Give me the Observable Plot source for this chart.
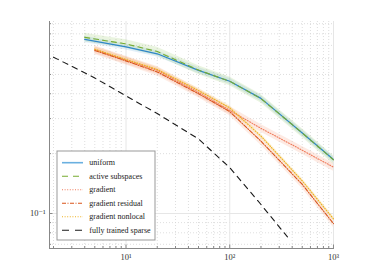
<!DOCTYPE html>
<html>
<head>
<meta charset="utf-8">
<script src="https://cdn.jsdelivr.net/npm/d3@7"></script>
<script src="https://cdn.jsdelivr.net/npm/@observablehq/plot@0.6"></script>
<style>
  html, body { margin: 0; padding: 0; background: white; }
  #chart { width: 374px; height: 280px; }
</style>
</head>
<body>
<div id="chart"></div>
<script>
// ---- data ----
const xs = [4, 10, 20, 50, 100, 200, 500, 1000];
const uniform = [0.751, 0.688, 0.635, 0.524, 0.462, 0.379, 0.254, 0.187];
const activeSubspaces = [0.768, 0.712, 0.652, 0.526, 0.462, 0.378, 0.254, 0.186];

const xsGrad = [5, 10, 20, 50, 100, 200, 500, 1000];
const gradient = [0.667, 0.59, 0.525, 0.406, 0.33, 0.268, 0.208, 0.171];
const gradientResidual = [0.66, 0.585, 0.515, 0.40, 0.325, 0.231, 0.14, 0.089];
const gradientNonlocal = [0.67, 0.595, 0.53, 0.415, 0.34, 0.245, 0.146, 0.094];

const xsSparse = [2, 5, 10, 20, 50, 100, 200, 360];
const fullyTrainedSparse = [0.611, 0.48, 0.39, 0.318, 0.237, 0.17, 0.111, 0.0763];

// relative half-width of the shaded spread around each mean curve
const spreadUniform = 0.035, spreadActive = 0.05, spreadGrad = 0.045;

const xMajorTicks = [10, 100, 1000];
const yMajorTicks = [0.1];
const xMinorTicks = [2,3,4,5,6,7,8,9,20,30,40,50,60,70,80,90,200,300,400,500,600,700,800,900];
const yMinorTicks = [0.07,0.08,0.09,0.2,0.3,0.4,0.5,0.6,0.7,0.8,0.9];

const seriesNames = ["uniform", "active subspaces", "gradient", "gradient residual", "gradient nonlocal", "fully trained sparse"];
const colors = {
  "uniform": "#2e86c8",
  "active subspaces": "#77AC30",
  "gradient": "#f07a5a",
  "gradient residual": "#D95319",
  "gradient nonlocal": "#EDB120",
  "fully trained sparse": "#1a1a1a"
};
const dashes = {
  "uniform": null,
  "active subspaces": "5,4",
  "gradient": "1,1.6",
  "gradient residual": "4,1.5,1,1.5",
  "gradient nonlocal": "1,1.6",
  "fully trained sparse": "5.5,5"
};

function rows(x, y, name, spread) {
  return x.map((v, i) => ({x: v, y: y[i], lo: y[i] * (1 - spread), hi: y[i] * (1 + spread), name}));
}
const dUniform = rows(xs, uniform, "uniform", spreadUniform);
const dActive = rows(xs, activeSubspaces, "active subspaces", spreadActive);
const dGrad = rows(xsGrad, gradient, "gradient", spreadGrad);
const dRes = rows(xsGrad, gradientResidual, "gradient residual", spreadGrad);
const dNon = rows(xsGrad, gradientNonlocal, "gradient nonlocal", spreadGrad * 0.6);
const dSparse = rows(xsSparse, fullyTrainedSparse, "fully trained sparse", 0);

const xMin = 1.83, xMax = 1023, yMin = 0.0667, yMax = 0.923;

const sup = {"-": "\u207B", "0": "\u2070", "1": "\u00B9", "2": "\u00B2", "3": "\u00B3"};
const pow10 = d => "10" + String(Math.round(Math.log10(d))).split("").map(c => sup[c]).join("");

function band(data, fill, op) {
  return Plot.areaY(data, {x: "x", y1: "lo", y2: "hi", fill, fillOpacity: op, curve: "linear"});
}
function line(data) {
  const n = data[0].name;
  return Plot.line(data, {x: "x", y: "y", stroke: colors[n], strokeWidth: n === "uniform" ? 1.2 : 1.1, strokeDasharray: dashes[n]});
}

const chart = Plot.plot({
  width: 374,
  height: 280,
  marginLeft: 49,
  marginRight: 40,
  marginTop: 21,
  marginBottom: 32,
  style: {fontFamily: "'Liberation Serif', 'DejaVu Serif', serif", fontSize: "8.5px", color: "#333", background: "white"},
  x: {type: "log", domain: [xMin, xMax], label: null},
  y: {type: "log", domain: [yMin, yMax], label: null},
  marks: [
    Plot.ruleX(xMinorTicks, {stroke: "#d6d6d6", strokeDasharray: "1,2", strokeWidth: 0.8}),
    Plot.ruleY(yMinorTicks, {stroke: "#d6d6d6", strokeDasharray: "1,2", strokeWidth: 0.8}),
    Plot.ruleX(xMajorTicks, {stroke: "#e6e6e6", strokeWidth: 1}),
    Plot.ruleY(yMajorTicks, {stroke: "#e6e6e6", strokeWidth: 1}),
    band(dUniform, "#5aa9e0", 0.18),
    band(dActive, "#8cc152", 0.18),
    band(dGrad, "#f4a080", 0.22),
    band(dRes, "#f08050", 0.15),
    band(dNon, "#f5c860", 0.2),
    line(dSparse),
    line(dGrad),
    line(dNon),
    line(dRes),
    line(dUniform),
    line(dActive),
    // inward minor and major ticks
    Plot.axisX(xMinorTicks, {tickSize: -2, tickFormat: () => "", stroke: "#888", label: null}),
    Plot.axisY(yMinorTicks, {tickSize: -2, tickFormat: () => "", stroke: "#888", label: null}),
    Plot.axisX(xMajorTicks, {tickSize: -3.5, tickFormat: () => "", stroke: "#888", label: null}),
    Plot.axisY(yMajorTicks, {tickSize: -3.5, tickFormat: () => "", stroke: "#888", label: null}),
    // tick labels
    Plot.axisX(xMajorTicks, {tickSize: 0, tickPadding: 5, tickFormat: pow10, fill: "#333", label: null}),
    Plot.axisY(yMajorTicks, {tickSize: 0, tickPadding: 4, tickFormat: pow10, fill: "#333", label: null}),
    // spines
    Plot.ruleX([xMin], {stroke: "#888", strokeWidth: 1}),
    Plot.ruleY([yMin], {stroke: "#888", strokeWidth: 1})
  ]
});

// legend inside the plot area
const svg = d3.select(chart);
const lg = svg.append("g")
  .attr("font-family", "'Liberation Serif', 'DejaVu Serif', serif")
  .attr("font-size", "8px")
  .attr("text-anchor", "start");
lg.append("rect").attr("x", 57).attr("y", 151).attr("width", 98).attr("height", 89)
  .attr("fill", "white").attr("stroke", "#999").attr("stroke-width", 1);
seriesNames.forEach((n, i) => {
  const yy = 162.7 + i * 13.5;
  lg.append("line").attr("x1", 62).attr("x2", 83).attr("y1", yy).attr("y2", yy)
    .attr("stroke", n === "uniform" ? "#6ab0e0" : colors[n])
    .attr("stroke-width", n === "uniform" ? 1.6 : 1.1)
    .attr("stroke-dasharray", n === "fully trained sparse" ? "7,6" : n === "active subspaces" ? "6,5" : dashes[n]);
  lg.append("text").attr("x", 89.3).attr("y", yy).attr("dy", "0.32em")
    .attr("text-anchor", "start").attr("fill", "#222").text(n);
});

document.getElementById("chart").appendChild(chart);
</script>
</body>
</html>
